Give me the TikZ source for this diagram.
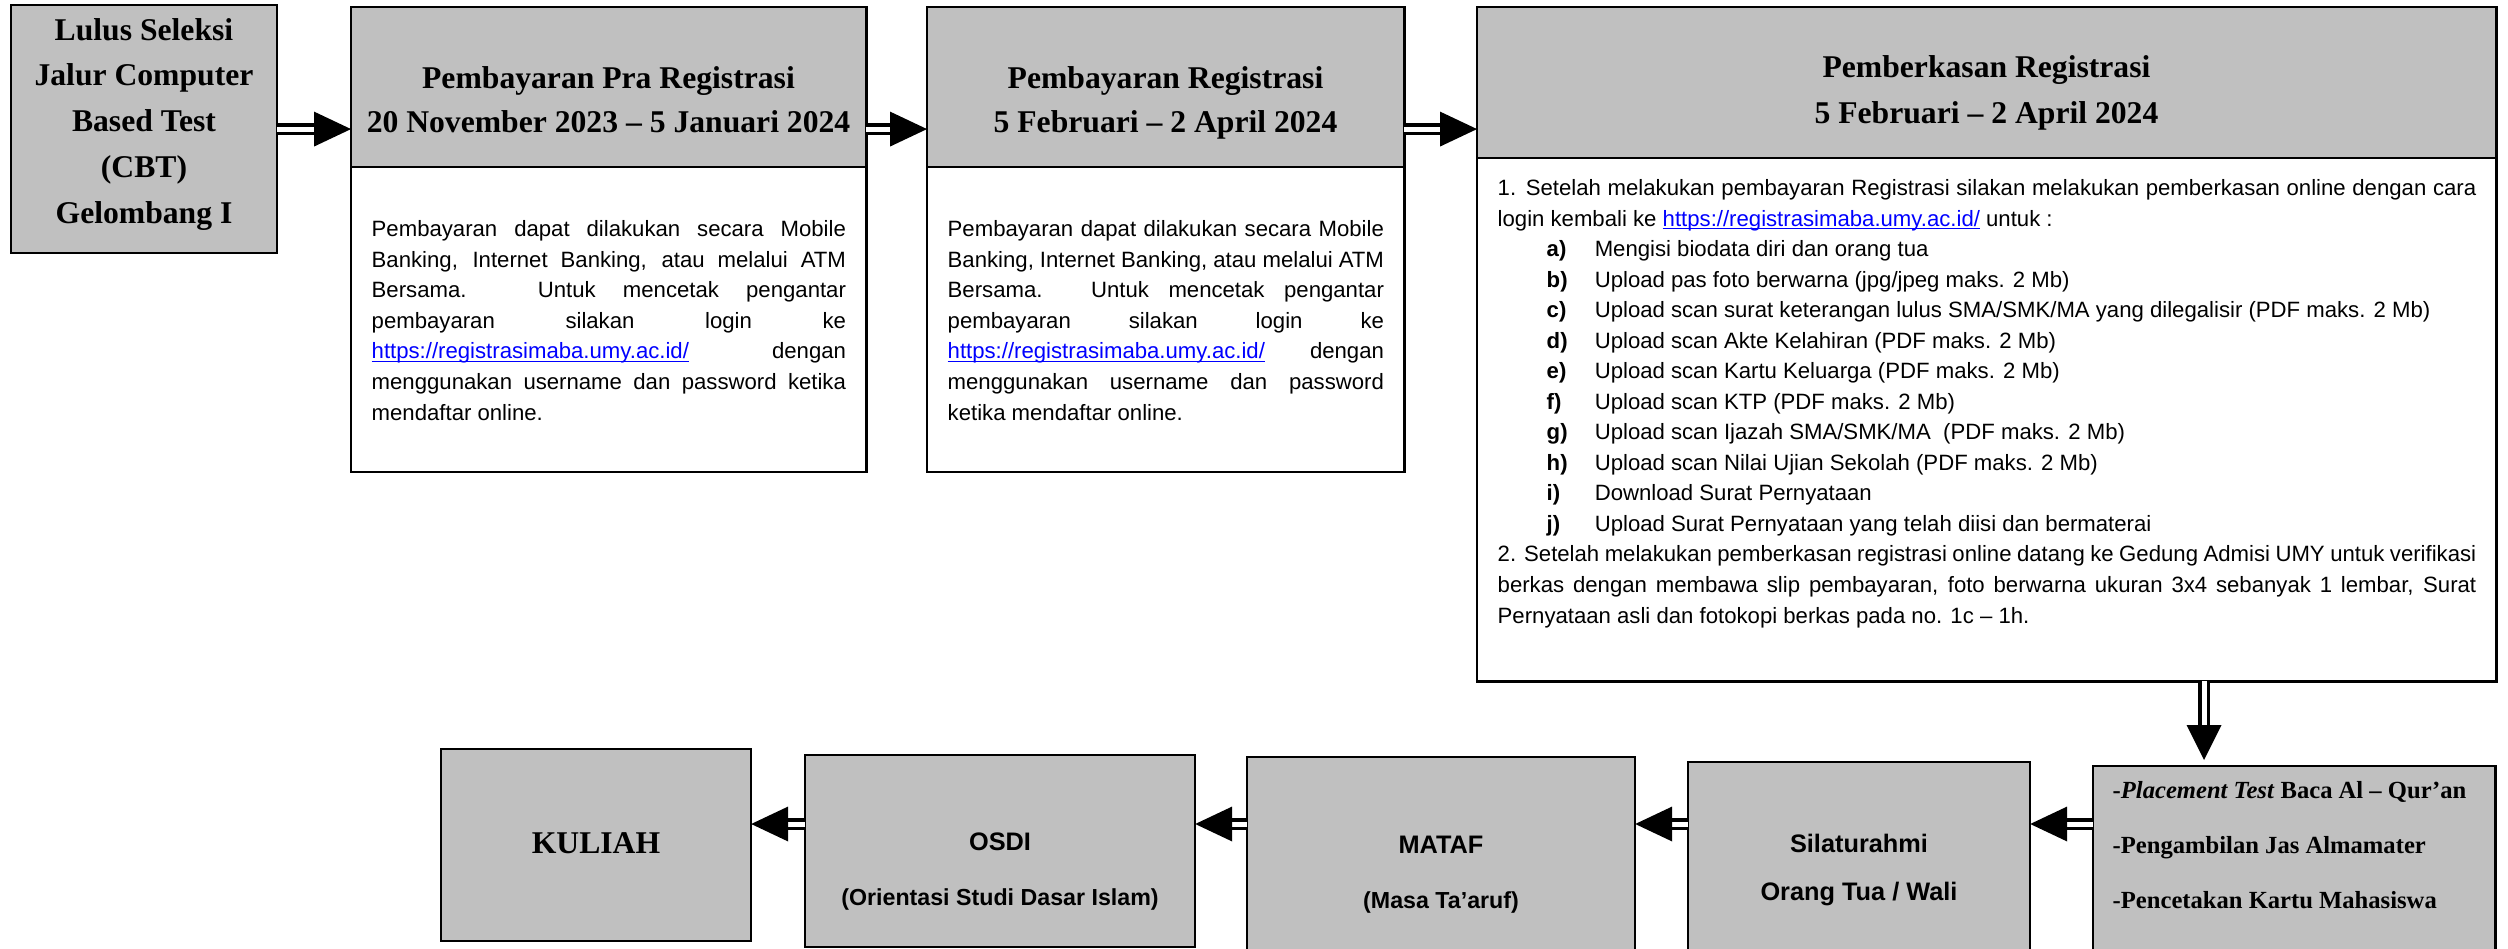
\documentclass[tikz,border=0pt]{standalone}
\usepackage{fontspec}
\setmainfont{Liberation Serif}
\setsansfont{Liberation Sans}
\usetikzlibrary{calc}
\definecolor{boxgray}{RGB}{192,192,192}
\definecolor{linkblue}{RGB}{0,0,255}
\newcommand\lnk[1]{\textcolor{linkblue}{\setbox0\hbox{#1}\rlap{\rule[-0.85pt]{\wd0}{0.35pt}}\box0}}
\newcommand\lstitem[2]{\hspace*{0.49cm}\makebox[0.48cm][l]{\bfseries #1}#2}
\newcommand\rarrow[2]{\draw[shaft] #1 -- ($#2+(-30,0)$); \fill #2 -- ++(-37,-17.5) -- ++(0,35) -- cycle;}
\newcommand\larrow[2]{\draw[shaft] #1 -- ($#2+(30,0)$); \fill #2 -- ++(37,-17.5) -- ++(0,35) -- cycle;}
\begin{document}
\begin{tikzpicture}[x=0.01cm,y=-0.01cm,
  box/.style={draw=black, line width=0.025cm, inner sep=0pt, outer sep=0pt, anchor=north west},
  gbox/.style={box, fill=boxgray},
  wbox/.style={box, fill=white},
  shaft/.style={draw=black, line width=0.035cm, double=white, double distance=0.05cm},
  ttl/.style={inner sep=0pt, align=center, anchor=base, font=\bfseries\fontsize{9}{12.5}\selectfont},
  body/.style={inner sep=0pt, align=left, anchor=base west, font=\sffamily\fontsize{6.3}{8.68}\selectfont},
  btxt/.style={inner sep=0pt, anchor=base, font=\sffamily\bfseries\fontsize{6.6}{8}\selectfont},
  bbig/.style={inner sep=0pt, anchor=base, font=\sffamily\bfseries\fontsize{7.2}{8}\selectfont}]
\useasboundingbox (0,0) rectangle (2508,948);
\clip (0,0) rectangle (2508,948);
% top row boxes
\node[gbox, minimum width=2.66cm, minimum height=2.48cm] (b1) at (11,5) {};
\node[gbox, minimum width=5.15cm, minimum height=1.60cm] (b2h) at (351,7) {};
\node[wbox, minimum width=5.15cm, minimum height=3.05cm] (b2b) at (351,167) {};
\node[gbox, minimum width=4.77cm, minimum height=1.60cm] (b3h) at (927,7) {};
\node[wbox, minimum width=4.77cm, minimum height=3.05cm] (b3b) at (927,167) {};
\node[gbox, minimum width=10.19cm, minimum height=1.51cm] (b4h) at (1477,7) {};
\node[wbox, minimum width=10.19cm, minimum height=5.23cm] (b4b) at (1477,158) {};
% bottom row boxes
\node[gbox, minimum width=3.10cm, minimum height=1.92cm] (kul) at (441,749) {};
\node[gbox, minimum width=3.90cm, minimum height=1.92cm] (osdi) at (805,755) {};
\node[gbox, minimum width=3.88cm, minimum height=2.20cm] (mataf) at (1247,757) {};
\node[gbox, minimum width=3.42cm, minimum height=2.20cm] (sila) at (1688,762) {};
\node[gbox, minimum width=4.02cm, minimum height=2.20cm] (pl) at (2093,766) {};
% texts top (anchor = baseline of last line)
\node[ttl, font=\bfseries\fontsize{9}{13}\selectfont] (t1) at (144,223) {Lulus Seleksi\\Jalur Computer\\Based Test\\(CBT)\\Gelombang I};
\node[ttl] (t2h) at (608.5,132) {Pembayaran Pra Registrasi\\20 November 2023 – 5 Januari 2024};
\node[ttl] (t3h) at (1165.5,132) {Pembayaran Registrasi\\5 Februari – 2 April 2024};
\node[ttl, font=\bfseries\fontsize{9}{12.8}\selectfont] (t4h) at (1986.5,123) {Pemberkasan Registrasi\\5 Februari – 2 April 2024};
\node[body] (t2b) at (371,420) {%
\makebox[4.74cm][s]{Pembayaran dapat dilakukan secara Mobile}\\
\makebox[4.74cm][s]{Banking, Internet Banking, atau melalui ATM}\\
\makebox[4.74cm][s]{Bersama. Untuk mencetak pengantar}\\
\makebox[4.74cm][s]{pembayaran silakan login ke}\\
\makebox[4.74cm][s]{\lnk{https://registrasimaba.umy.ac.id/} dengan}\\
\makebox[4.74cm][s]{menggunakan username dan password ketika}\\
mendaftar online.};
\node[body] (t3b) at (947,420) {%
\makebox[4.36cm][s]{Pembayaran dapat dilakukan secara Mobile}\\
\makebox[4.36cm][s]{Banking, Internet Banking, atau melalui ATM}\\
\makebox[4.36cm][s]{Bersama. Untuk mencetak pengantar}\\
\makebox[4.36cm][s]{pembayaran silakan login ke}\\
\makebox[4.36cm][s]{\lnk{https://registrasimaba.umy.ac.id/} dengan}\\
\makebox[4.36cm][s]{menggunakan username dan password}\\
ketika mendaftar online.};
\node[body] (t4b) at (1497,623) {%
\makebox[9.78cm][s]{1. Setelah melakukan pembayaran Registrasi silakan melakukan pemberkasan online dengan cara}\\
login kembali ke \lnk{https://registrasimaba.umy.ac.id/} untuk :\\
\lstitem{a)}{Mengisi biodata diri dan orang tua}\\
\lstitem{b)}{Upload pas foto berwarna (jpg/jpeg maks. 2 Mb)}\\
\lstitem{c)}{Upload scan surat keterangan lulus SMA/SMK/MA yang dilegalisir (PDF maks. 2 Mb)}\\
\lstitem{d)}{Upload scan Akte Kelahiran (PDF maks. 2 Mb)}\\
\lstitem{e)}{Upload scan Kartu Keluarga (PDF maks. 2 Mb)}\\
\lstitem{f)}{Upload scan KTP (PDF maks. 2 Mb)}\\
\lstitem{g)}{Upload scan Ijazah SMA/SMK/MA\ \ (PDF maks. 2 Mb)}\\
\lstitem{h)}{Upload scan Nilai Ujian Sekolah (PDF maks. 2 Mb)}\\
\lstitem{i)}{Download Surat Pernyataan}\\
\lstitem{j)}{Upload Surat Pernyataan yang telah diisi dan bermaterai}\\
\makebox[9.78cm][s]{2. Setelah melakukan pemberkasan registrasi online datang ke Gedung Admisi UMY untuk verifikasi}\\
\makebox[9.78cm][s]{berkas dengan membawa slip pembayaran, foto berwarna ukuran 3x4 sebanyak 1 lembar, Surat}\\
Pernyataan asli dan fotokopi berkas pada no. 1c – 1h.};
% texts bottom
\node[inner sep=0pt, anchor=base, font=\bfseries\fontsize{9}{10}\selectfont] (tkul) at (596,853) {KULIAH};
\node[bbig] (tosdi) at (1000,850) {OSDI};
\node[btxt] (tosdi2) at (1000,905) {(Orientasi Studi Dasar Islam)};
\node[bbig] (tmat) at (1441,853) {MATAF};
\node[btxt] (tmat2) at (1441,908) {(Masa Ta’aruf)};
\node[bbig] (tsil) at (1859,852) {Silaturahmi};
\node[bbig] (tsil2) at (1859,900) {Orang Tua / Wali};
\node[inner sep=0pt, align=left, anchor=base west, font=\bfseries\fontsize{7}{15.5}\selectfont] (tpl) at (2112,908)
  {-\textit{Placement Test} Baca Al – Qur’an\\-Pengambilan Jas Almamater\\-Pencetakan Kartu Mahasiswa};
% connectors
\coordinate (dx) at (2204,0);
\coordinate (ry) at (0,824);
\rarrow{(b1.east)}{(b1.east -| b2h.west)}
\rarrow{(b2h.east |- b1.east)}{(b1.east -| b3h.west)}
\rarrow{(b3h.east |- b1.east)}{(b1.east -| b4h.west)}
\coordinate (dtip) at ($(pl.north -| dx)+(0,-6)$);
\draw[shaft] (b4b.south -| dx) -- ($(dtip)+(0,-30)$);
\fill (dtip) -- ++(-17.5,-35) -- ++(35,0) -- cycle;
\larrow{(pl.west |- ry)}{(sila.east |- ry)}
\larrow{(sila.west |- ry)}{(mataf.east |- ry)}
\larrow{(mataf.west |- ry)}{(osdi.east |- ry)}
\larrow{(osdi.west |- ry)}{(kul.east |- ry)}
\end{tikzpicture}
\end{document}
